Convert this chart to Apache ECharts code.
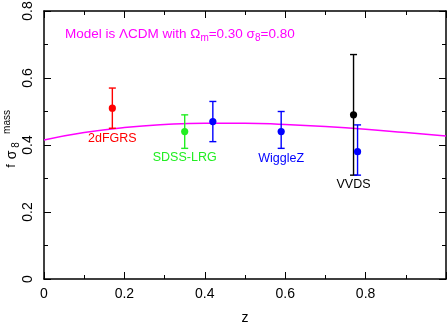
<!DOCTYPE html>
<html>
<head>
<meta charset="utf-8">
<script src="https://cdn.jsdelivr.net/npm/echarts@6/dist/echarts.min.js"></script>
<style>
	html, body { margin: 0; padding: 0; background: #fff; }
	#chart { width: 447px; height: 327px; }
</style>
</head>
<body>
<div id="chart"></div>
<script>
	// measurements
	const z = [0.17, 0.35, 0.42, 0.59, 0.77, 0.78]
	const fs8 = [0.51, 0.44, 0.47, 0.44, 0.49, 0.38]
	const errLo = [0.45, 0.39, 0.41, 0.39, 0.31, 0.31]
	const errHi = [0.57, 0.49, 0.53, 0.50, 0.67, 0.46]
	const survey = ['2dFGRS', 'SDSS-LRG', '', 'WiggleZ', 'VVDS', '']
	const pointColor = ['#ff0000', '#22ee22', '#0000ff', '#0000ff', '#000000', '#0000ff']

	// LCDM model curve
	const modelZ = [0, 0.1, 0.2, 0.3, 0.4, 0.5, 0.6, 0.7, 0.8, 0.9, 1.0]
	const modelFs8 = [0.415, 0.437, 0.452, 0.461, 0.465, 0.465, 0.461, 0.455, 0.447, 0.437, 0.427]

	// label offsets below point (px)
	const labelDy = [30, 26, 0, 27, 70, 0]

	const font = "'Liberation Sans', Arial, sans-serif"

	const chart = echarts.init(document.getElementById('chart'))

	const baseX = {
		type: 'value',
		min: 0,
		max: 1,
		interval: 0.2,
		splitLine: { show: false },
		axisLine: { show: true, onZero: false, lineStyle: { color: '#000', width: 1.5 } },
		axisTick: { inside: true, length: 7, lineStyle: { color: '#000', width: 1 } },
		minorTick: { show: true, splitNumber: 2, length: 4, lineStyle: { color: '#000', width: 1 } },
	}
	const baseY = {
		type: 'value',
		min: 0,
		max: 0.8,
		interval: 0.2,
		splitLine: { show: false },
		axisLine: { show: true, onZero: false, lineStyle: { color: '#000', width: 1.5 } },
		axisTick: { inside: true, length: 7, lineStyle: { color: '#000', width: 1 } },
		minorTick: { show: true, splitNumber: 2, length: 4, lineStyle: { color: '#000', width: 1 } },
	}

	// rotated y axis title pieces: f sigma_8^mass
	function yTitle(text, x, y, size) {
		return {
			type: 'text',
			x: x,
			y: y,
			rotation: Math.PI / 2,
			style: { text: text, fill: '#000', font: size + 'px ' + font, align: 'center', verticalAlign: 'middle' },
		}
	}

	chart.setOption({
		animation: false,
		grid: { left: 44, right: 1, top: 11, bottom: 48, outerBoundsMode: 'none' },
		xAxis: [
			Object.assign({}, baseX, {
				position: 'bottom',
				name: 'z',
				nameLocation: 'middle',
				nameGap: 32,
				nameMoveOverlap: false,
				nameTextStyle: { color: '#000', fontSize: 14, fontFamily: font },
				axisLabel: { color: '#000', fontSize: 14, fontFamily: font, margin: 8, showMaxLabel: false },
			}),
			Object.assign({}, baseX, { position: 'top', axisLabel: { show: false } }),
		],
		yAxis: [
			Object.assign({}, baseY, {
				position: 'left',
				axisLabel: { color: '#000', fontSize: 14, fontFamily: font, rotate: 90, margin: 9 },
			}),
			Object.assign({}, baseY, { position: 'right', axisLabel: { show: false } }),
		],
		graphic: [
			{
				type: 'text',
				left: 65,
				top: 27,
				style: {
					text: '{t|Model is ΛCDM with Ω}{s|m}{t|=0.30 σ}{s|8}{t|=0.80}',
					rich: {
						t: { fontSize: 13.5, fontFamily: font, fill: '#ff00ff', lineHeight: 18 },
						s: { fontSize: 10, fontFamily: font, fill: '#ff00ff', verticalAlign: 'bottom', lineHeight: 18 },
					},
				},
			},
			yTitle('f', 11, 166, 13),
			yTitle('σ', 12, 155, 14),
			yTitle('8', 16, 145, 10),
			yTitle('mass', 7, 122, 10),
		],
		series: [
			{
				type: 'line',
				data: modelZ.map((x, i) => [x, modelFs8[i]]),
				smooth: true,
				symbol: 'none',
				lineStyle: { color: '#ff00ff', width: 1.5 },
				z: 1,
			},
			{
				type: 'custom',
				data: z.map((x, i) => [x, fs8[i], errLo[i], errHi[i]]),
				z: 2,
				renderItem: function (params, api) {
					const i = params.dataIndex
					const col = pointColor[i]
					const c = api.coord([api.value(0), api.value(1)])
					const lo = api.coord([api.value(0), api.value(2)])
					const hi = api.coord([api.value(0), api.value(3)])
					const cap = 3.5
					const ls = { stroke: col, lineWidth: 1.4 }
					const children = [
						{ type: 'line', shape: { x1: c[0], y1: lo[1], x2: c[0], y2: hi[1] }, style: ls },
						{ type: 'line', shape: { x1: c[0] - cap, y1: hi[1], x2: c[0] + cap, y2: hi[1] }, style: ls },
						{ type: 'line', shape: { x1: c[0] - cap, y1: lo[1], x2: c[0] + cap, y2: lo[1] }, style: ls },
						{ type: 'circle', shape: { cx: c[0], cy: c[1], r: 3.6 }, style: { fill: col } },
					]
					if (survey[i]) {
						children.push({
							type: 'text',
							x: c[0],
							y: c[1] + labelDy[i],
							style: {
								text: survey[i],
								fill: col,
								font: '12.5px ' + font,
								align: 'center',
								verticalAlign: 'middle',
							},
						})
					}
					return { type: 'group', children: children }
				},
			},
		],
	})
</script>
</body>
</html>
